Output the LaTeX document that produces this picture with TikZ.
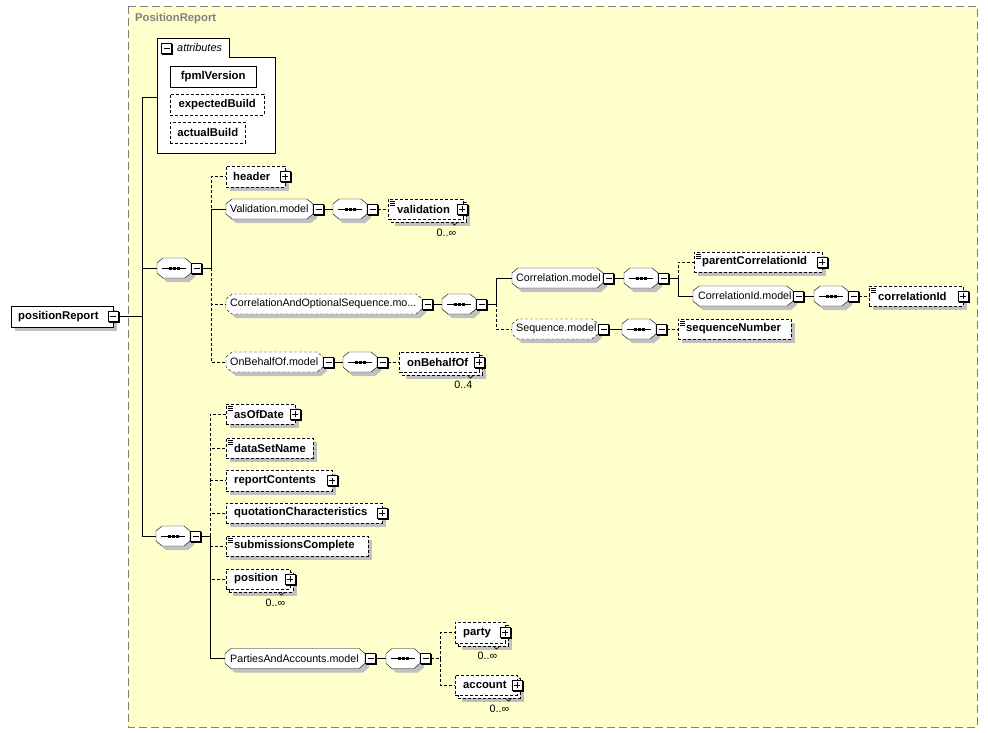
\documentclass[tikz,border=0pt]{standalone}
\usepackage{fontspec}
\setmainfont{Liberation Sans}
\usetikzlibrary{calc}
\definecolor{bgyellow}{RGB}{255,255,204}
\definecolor{shgray}{RGB}{192,192,192}
\definecolor{framegray}{RGB}{128,128,128}
\pgfdeclarelayer{bottom}
\pgfdeclarelayer{shadow}
\pgfsetlayers{bottom,shadow,main}
\tikzset{
  opt/.style={dash pattern=on 3pt off 2pt},
  boxbase/.style={rectangle,draw,fill=white,inner sep=0pt,anchor=west},
  simple/.style={path picture={
     \draw[solid,line width=0.8pt] ([shift={(2pt,-2pt)}]path picture bounding box.north west) -- ++(5pt,0pt);
     \draw[solid,line width=0.8pt] ([shift={(2pt,-4pt)}]path picture bounding box.north west) -- ++(5pt,0pt);
     \draw[solid,line width=0.8pt] ([shift={(2pt,-6pt)}]path picture bounding box.north west) -- ++(5pt,0pt);}},
  anch/.style={rectangle,inner sep=0pt,minimum height=20pt,anchor=west},
  pmbase/.style={rectangle,draw,solid,fill=white,minimum size=10pt,inner sep=0pt},
  minusb/.style={pmbase,path picture={
     \draw ([xshift=2pt]path picture bounding box.west) -- ([xshift=-2pt]path picture bounding box.east);}},
  plusb/.style={pmbase,path picture={
     \draw ([xshift=2pt]path picture bounding box.west) -- ([xshift=-2pt]path picture bounding box.east);
     \draw ([yshift=-2pt]path picture bounding box.north) -- ([yshift=2pt]path picture bounding box.south);}},
  bfont/.style={font=\fontsize{11.3}{13}\selectfont\bfseries},
  lbl/.style={bfont,inner sep=0pt,anchor=west},
  glbl/.style={font=\fontsize{10.7}{12}\selectfont,inner sep=0pt,anchor=west},
  card/.style={font=\fontsize{10.7}{12}\selectfont,inner sep=0pt,anchor=east},
  notch/.style={line width=0.6pt,solid},
  pmshadow/.style={solid,line width=1pt},
  shadowfill/.style={fill=shgray,draw=none},
}
% element box with shadow: [opts]{name}{x1}{yc}{w}{h}{text}
\newcommand\ebox[7][]{%
  \node[boxbase,#1,minimum width=#5pt,minimum height=#6pt] (#2) at (#3,#4) {#7};
  \begin{pgfonlayer}{shadow}
    \path[shadowfill] ([shift={(4pt,-4pt)}]#2.north west) rectangle ([shift={(4pt,-4pt)}]#2.south east);
  \end{pgfonlayer}}
% plus / minus box: [anchor]{style}{name}{position}
\newcommand\pmb[4][center]{%
  \node[#2,anchor=#1] (#3) at (#4) {};
  \draw[pmshadow] ([shift={(1pt,-1pt)}]#3.south west) -- ([shift={(1pt,-1pt)}]#3.south east) -- ([shift={(1pt,-1pt)}]#3.north east);}
% octagon outline: x1, yc, x2
\newcommand\octpath[3]{({#1},{#2-5}) -- ({#1+6},{#2-10}) -- ({#3-6},{#2-10}) -- ({#3},{#2-5}) -- ({#3},{#2+5}) -- ({#3-6},{#2+10}) -- ({#1+6},{#2+10}) -- ({#1},{#2+5}) -- cycle}
% model group / compositor: [opts]{name}{x1}{yc}{width}
\newcommand\octa[5][]{%
  \begin{pgfonlayer}{shadow}
    \path[shadowfill,shift={(4,4)}] \octpath{#3}{#4}{#3+#5};
  \end{pgfonlayer}
  \draw[fill=white,#1] \octpath{#3}{#4}{#3+#5};
  \node[anch,minimum width=#5pt] (#2) at (#3,#4) {};}
\newcommand\seqc[3]{%
  \octa{#1}{#2}{#3}{34}
  \draw ({#2+5},#3) -- ({#2+29},#3);
  \fill ({#2+11.5},{#3-1.5}) rectangle ({#2+14.5},{#3+1.5});
  \fill ({#2+15.5},{#3-1.5}) rectangle ({#2+18.5},{#3+1.5});
  \fill ({#2+19.5},{#3-1.5}) rectangle ({#2+22.5},{#3+1.5});}
\begin{document}
\begin{tikzpicture}[x=1pt,y=-1pt,line width=1pt]
\begin{pgfonlayer}{bottom}
\fill[white] (0,0) rectangle (988,733);
\draw[framegray,fill=bgyellow,dash pattern=on 8pt off 4pt] (128,6) rectangle (977,727);
\end{pgfonlayer}
\useasboundingbox (0,0) rectangle (988,733);
\node[lbl,text=framegray] (title) at (135,19) {PositionReport};

% attributes
\draw[fill=white] (157,153) -- (157,38) -- (229,38) -- (229,57) -- (275,57) -- (275,153) -- cycle;
\pmb{minusb}{attrm}{166.5,48.5}
\node[glbl,font=\fontsize{10.9}{12}\selectfont\itshape] (attrt) at (177,48) {attributes};
\coordinate (attrc) at (157,97);
\ebox[bfont]{fpml}{170}{76.5}{86}{21}{fpmlVersion}
\ebox[bfont,opt]{expb}{170}{104.5}{94}{21}{expectedBuild}
\ebox[bfont,opt]{actb}{170}{132.5}{75}{21}{actualBuild}

% root
\ebox{root}{11}{316.5}{102}{21}{}
\node[lbl] (roott) at ([xshift=7pt]root.west) {positionReport};
\pmb{minusb}{rootm}{root.east}
\coordinate (j0) at (142,316.5);

% upper sequence
\seqc{s1}{157}{268}
\pmb[west]{minusb}{s1m}{s1.east}
\coordinate (v1) at (211,268);

\ebox[opt]{header}{226}{176.5}{59}{21}{}
\node[lbl] (headert) at ([xshift=7pt]header.west) {header};
\pmb{plusb}{headerp}{header.east}

\octa{valm}{226}{209}{87}
\node[glbl] (valmt) at ([xshift=4pt]valm.west) {Validation.model};
\pmb[west]{minusb}{valmm}{valm.east}
\seqc{s2}{333}{209}
\pmb[west]{minusb}{s2m}{s2.east}
\ebox[opt]{validb}{391}{212}{75}{20}{}
\node[boxbase,opt,simple,minimum width=75pt,minimum height=20pt] (valid) at (388,209) {};
\node[lbl] (validt) at ([xshift=9pt]valid.west) {validation};
\pmb{plusb}{validp}{[xshift=-1pt]valid.east}
\draw[notch] ([xshift=-15pt]validb.south east) -- ++(3pt,-3pt) -- ++(3pt,3pt);
\node[card] (validc) at ([shift={(-10pt,-11pt)}]validb.south east) {0..\char"221E};

\octa[opt]{corr}{226}{304}{196}
\node[glbl] (corrt) at ([xshift=4pt]corr.west) {CorrelationAndOptionalSequence.mo...};
\pmb[west]{minusb}{corrm}{corr.east}
\seqc{s3}{442}{304}
\pmb[west]{minusb}{s3m}{s3.east}
\coordinate (v3) at (496,304);

\octa{cm}{512}{278}{91}
\node[glbl] (cmt) at ([xshift=4pt]cm.west) {Correlation.model};
\pmb[west]{minusb}{cmm}{cm.east}
\seqc{s4}{624}{278}
\pmb[west]{minusb}{s4m}{s4.east}
\coordinate (v4) at (678,278);

\ebox[opt,simple]{pci}{694}{262}{128}{20}{}
\node[lbl] (pcit) at ([xshift=8pt]pci.west) {parentCorrelationId};
\pmb{plusb}{pcip}{pci.east}

\octa{cim}{693}{296}{100}
\node[glbl] (cimt) at ([xshift=5pt]cim.west) {CorrelationId.model};
\pmb[west]{minusb}{cimm}{cim.east}
\seqc{s5}{814}{296}
\pmb[west]{minusb}{s5m}{s5.east}
\ebox[opt,simple]{cid}{869}{296}{94}{20}{}
\node[lbl] (cidt) at ([xshift=9pt]cid.west) {correlationId};
\pmb{plusb}{cidp}{cid.east}

\octa[opt]{sm}{512}{329}{86}
\node[glbl] (smt) at ([xshift=4pt]sm.west) {Sequence.model};
\pmb[west]{minusb}{smm}{sm.east}
\seqc{s6}{622}{329}
\pmb[west]{minusb}{s6m}{s6.east}
\ebox[opt,simple]{sn}{678}{329}{113}{20}{}
\node[lbl] (snt) at ([xshift=8pt]sn.west) {sequenceNumber};

\octa[opt]{obo}{226}{362}{97}
\node[glbl] (obot) at ([xshift=4pt]obo.west) {OnBehalfOf.model};
\pmb[west]{minusb}{obom}{obo.east}
\seqc{s7}{343}{362}
\pmb[west]{minusb}{s7m}{s7.east}
\ebox[opt]{obb}{402}{365}{80}{20}{}
\node[boxbase,opt,minimum width=80pt,minimum height=20pt] (ob) at (399,362) {};
\node[lbl] (obt) at ([xshift=8pt]ob.west) {onBehalfOf};
\pmb{plusb}{obp}{ob.east}
\draw[notch] ([xshift=-15pt]obb.south east) -- ++(3pt,-3pt) -- ++(3pt,3pt);
\node[card] (obc) at ([shift={(-10pt,-10pt)}]obb.south east) {0..4};

% lower sequence
\seqc{s8}{156}{536}
\pmb[west]{minusb}{s8m}{s8.east}
\coordinate (v8) at (210,536);

\ebox[opt,simple]{aod}{226}{414}{69}{20}{}
\node[lbl] (aodt) at ([xshift=8pt]aod.west) {asOfDate};
\pmb{plusb}{aodp}{aod.east}

\ebox[opt,simple]{dsn}{226}{448}{87}{20}{}
\node[lbl] (dsnt) at ([xshift=8pt]dsn.west) {dataSetName};

\ebox[opt]{rc}{226}{480.5}{106}{21}{}
\node[lbl] (rct) at ([xshift=8pt]rc.west) {reportContents};
\pmb{plusb}{rcp}{rc.east}

\ebox[opt]{qc}{226}{513}{156}{20}{}
\node[lbl] (qct) at ([xshift=8pt]qc.west) {quotationCharacteristics};
\pmb{plusb}{qcp}{qc.east}

\ebox[opt,simple]{sc}{226}{546}{142}{20}{}
\node[lbl] (sct) at ([xshift=8pt]sc.west) {submissionsComplete};

\ebox[opt]{posb}{229}{582}{64}{20}{}
\node[boxbase,opt,minimum width=64pt,minimum height=20pt] (pos) at (226,579) {};
\node[lbl] (post) at ([xshift=8pt]pos.west) {position};
\pmb{plusb}{posp}{pos.east}
\draw[notch] ([xshift=-15pt]posb.south east) -- ++(3pt,-3pt) -- ++(3pt,3pt);
\node[card] (posc) at ([shift={(-8pt,-11pt)}]posb.south east) {0..\char"221E};

\octa{pam}{225}{658.5}{140}
\node[glbl] (pamt) at ([xshift=5pt]pam.west) {PartiesAndAccounts.model};
\pmb[west]{minusb}{pamm}{pam.east}
\seqc{s9}{386}{658.5}
\pmb[west]{minusb}{s9m}{s9.east}
\coordinate (v9) at (440,658.5);

\ebox[opt]{partyb}{458}{635.5}{50}{21}{}
\node[boxbase,opt,minimum width=50pt,minimum height=21pt] (party) at (455,632.5) {};
\node[lbl] (partyt) at ([xshift=8pt]party.west) {party};
\pmb{plusb}{partyp}{party.east}
\draw[notch] ([xshift=-15pt]partyb.south east) -- ++(3pt,-3pt) -- ++(3pt,3pt);
\node[card] (partyc) at ([shift={(-11pt,-10pt)}]partyb.south east) {0..\char"221E};

\ebox[opt]{acctb}{458}{688}{62}{20}{}
\node[boxbase,opt,minimum width=62pt,minimum height=20pt] (acct) at (455,685) {};
\node[lbl] (acctt) at ([xshift=8pt]acct.west) {account};
\pmb{plusb}{acctp}{acct.east}
\draw[notch] ([xshift=-15pt]acctb.south east) -- ++(3pt,-3pt) -- ++(3pt,3pt);
\node[card] (acctc) at ([shift={(-11pt,-11pt)}]acctb.south east) {0..\char"221E};

% connectors
\draw (rootm.east) -- (j0);
\draw (j0) |- (attrc);
\draw (j0) |- (s1.west);
\draw (j0) |- (s8.west);
\draw (s1m.east) -- (v1);
\draw[opt] (v1) |- (header.west);
\draw[opt] (v1) |- (corr.west);
\draw[opt] (v1) |- (obo.west);
\draw (v1) |- (valm.west);
\draw (valmm.east) -- (s2.west);
\draw[opt] (s2m.east) -- (valid.west);
\draw (corrm.east) -- (s3.west);
\draw (s3m.east) -- (v3);
\draw[opt] (v3) |- (sm.west);
\draw (v3) |- (cm.west);
\draw (cmm.east) -- (s4.west);
\draw (s4m.east) -- (v4);
\draw[opt] (v4) |- (pci.west);
\draw (v4) |- (cim.west);
\draw (cimm.east) -- (s5.west);
\draw[opt] (s5m.east) -- (cid.west);
\draw (smm.east) -- (s6.west);
\draw[opt] (s6m.east) -- (sn.west);
\draw (obom.east) -- (s7.west);
\draw[opt] (s7m.east) -- (ob.west);
\draw (s8m.east) -- (v8);
\draw[opt] (v8) |- (aod.west);
\draw[opt] (v8) |- (dsn.west);
\draw[opt] (v8) |- (rc.west);
\draw[opt] (v8) |- (qc.west);
\draw[opt] (v8) |- (sc.west);
\draw[opt] (v8) |- (pos.west);
\draw (v8) |- (pam.west);
\draw (pamm.east) -- (s9.west);
\draw[opt] (s9m.east) -- (v9);
\draw[opt] (v9) |- (party.west);
\draw[opt] (v9) |- (acct.west);
\end{tikzpicture}
\end{document}
